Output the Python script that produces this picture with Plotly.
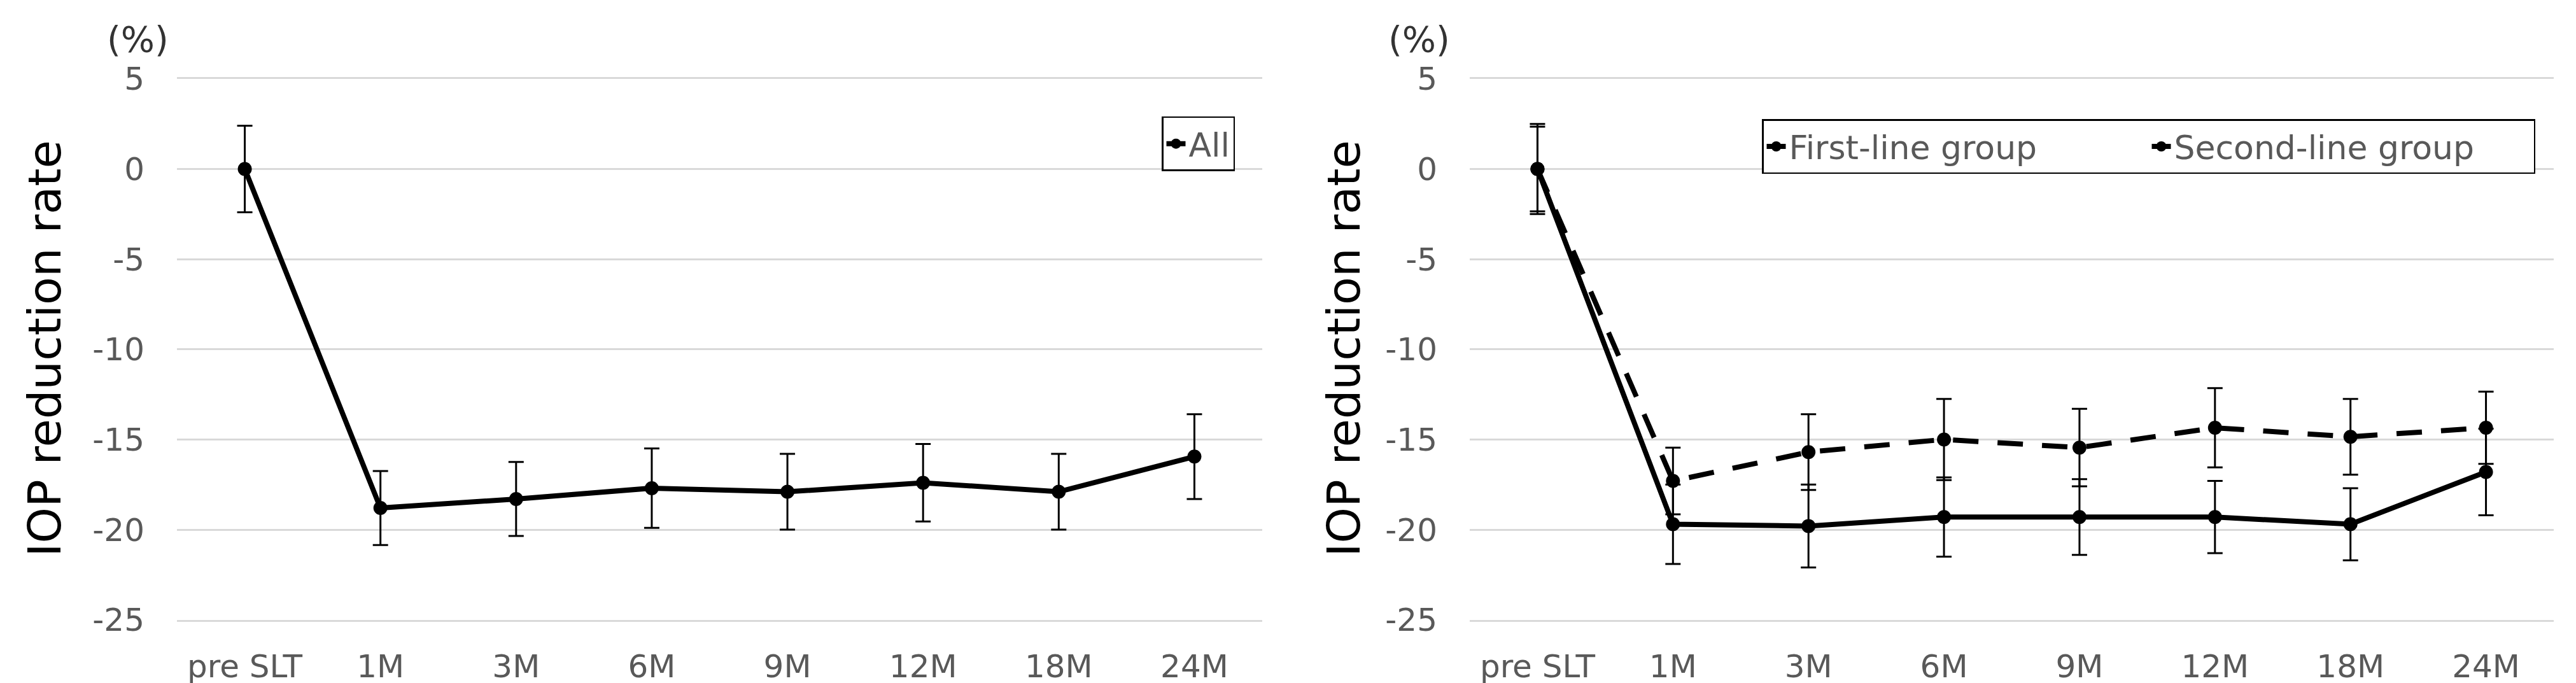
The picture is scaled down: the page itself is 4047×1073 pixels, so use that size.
import plotly.graph_objects as go

# time points after SLT
months = ["pre SLT", "1M", "3M", "6M", "9M", "12M", "18M", "24M"]

# IOP reduction rate (%), all eyes
all_mean = [0, -18.8, -18.3, -17.7, -17.9, -17.4, -17.9, -15.95]
all_sd = [2.4, 2.05, 2.05, 2.2, 2.1, 2.15, 2.1, 2.35]

# first-line / second-line groups
first_mean = [0, -19.7, -19.8, -19.3, -19.3, -19.3, -19.7, -16.8]
first_sd = [2.5, 2.2, 2.3, 2.2, 2.1, 2.0, 2.0, 2.4]
second_mean = [0, -17.3, -15.7, -15.0, -15.45, -14.35, -14.85, -14.35]
second_sd = [2.35, 1.85, 2.1, 2.25, 2.15, 2.2, 2.1, 2.0]

y_ticks = [5, 0, -5, -10, -15, -20, -25]
y_ticktext = ["5", "0", "-5", "-10", "-15", "-20", "-25"]

FONT = "DejaVu Sans"
TICK_GREY = "#595959"
GRID = "#d9d9d9"
W, H = 4047, 1073


def err(vals):
    return dict(type="data", array=vals, visible=True, color="black",
                thickness=3, width=12)


fig = go.Figure()

fig.add_trace(go.Scatter(
    x=months, y=all_mean, name="All", mode="lines+markers",
    line=dict(color="black", width=8), marker=dict(size=22, color="black"),
    error_y=err(all_sd), xaxis="x", yaxis="y", legend="legend"))

fig.add_trace(go.Scatter(
    x=months, y=first_mean, name="First-line group", mode="lines+markers",
    line=dict(color="black", width=8), marker=dict(size=22, color="black"),
    error_y=err(first_sd), xaxis="x2", yaxis="y2", legend="legend2"))

fig.add_trace(go.Scatter(
    x=months, y=second_mean, name="Second-line group", mode="lines+markers",
    line=dict(color="black", width=8, dash="40px,30px"),
    marker=dict(size=22, color="black"),
    error_y=err(second_sd), xaxis="x2", yaxis="y2", legend="legend2"))

# x axis line (mirrored) stands in for the 5 and -25 gridlines at the edges
xax = dict(type="category", range=[-0.5, len(months) - 0.5], showgrid=False,
           zeroline=False, showline=True, mirror=True, linecolor=GRID,
           linewidth=3, ticks="", ticklabelstandoff=27, automargin=False,
           tickfont=dict(family=FONT, size=50, color=TICK_GREY))
yax = dict(range=[-25, 5], tickvals=y_ticks, ticktext=y_ticktext,
           showgrid=True, gridcolor=GRID, gridwidth=3, zeroline=False,
           showline=False, ticks="", ticklabelstandoff=50, automargin=False,
           tickfont=dict(family=FONT, size=50, color=TICK_GREY))

legend_style = dict(font=dict(family=FONT, size=52, color=TICK_GREY),
                    bgcolor="white", bordercolor="black", borderwidth=2.5,
                    xanchor="right", yanchor="top")

fig.update_layout(
    width=W, height=H,
    margin=dict(l=0, r=0, t=0, b=0),
    paper_bgcolor="white", plot_bgcolor="white",
    xaxis=dict(xax, domain=[270 / W, 1975 / W], anchor="y"),
    yaxis=dict(yax, domain=[0.1, 0.892], anchor="x"),
    xaxis2=dict(xax, domain=[2301 / W, 4004 / W], anchor="y2"),
    yaxis2=dict(yax, domain=[0.1, 0.892], anchor="x2"),
    legend=dict(legend_style, x=1932 / W, y=0.837),
    legend2=dict(legend_style, x=3975 / W, y=0.833, orientation="h",
                 entrywidth=560),
    showlegend=True,
)

# y titles and unit labels for both panels
for xc, xu in [(62, 208), (2103, 2221)]:
    fig.add_annotation(text="IOP reduction rate", xref="paper", yref="paper",
                       x=xc / W, y=0.497, textangle=-90, showarrow=False,
                       xanchor="center", yanchor="middle",
                       font=dict(family=FONT, size=72, color="black"))
    fig.add_annotation(text="(%)", xref="paper", yref="paper",
                       x=xu / W, y=0.95, showarrow=False,
                       xanchor="center", yanchor="middle",
                       font=dict(family=FONT, size=56, color="#333333"))

fig.write_html("out.html")
